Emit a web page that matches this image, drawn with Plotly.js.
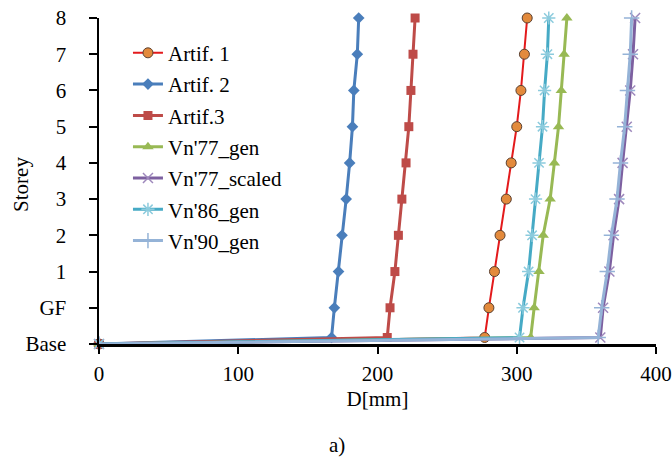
<!DOCTYPE html>
<html>
<head>
<meta charset="utf-8">
<script src="https://cdn.plot.ly/plotly-3.0.1.min.js"></script>
<style>html,body{margin:0;padding:0;background:#fff;}#chart{width:672px;height:457px;}</style>
</head>
<body>
<div id="chart"></div>
<script>
// Storey levels (numeric positions) and their labels
const levels = [0, 0.18, 1, 2, 3, 4, 5, 6, 7, 8, 9];
const levelTicks = [0, 1, 2, 3, 4, 5, 6, 7, 8, 9];
const levelLabels = ["Base", "GF", "1", "2", "3", "4", "5", "6", "7", "8"];
const xTicks = [0, 100, 200, 300, 400];

// Displacement D [mm] per level (origin, base, GF, 1..8)
const artif1 = [0, 277, 280, 284, 288, 292.5, 296, 300, 303, 305.5, 307.5];
const artif2 = [0, 167, 169, 172, 174.5, 177.5, 180, 182, 183, 185.5, 186.5];
const artif3 = [0, 207, 209, 212.5, 215, 217.5, 220.5, 222.5, 224, 225.5, 227];
const vn77gen = [0, 310, 312.5, 316, 319, 324, 327, 330, 332, 334, 336];
const vn77scaled = [0, 360, 362, 366.5, 369.5, 373.5, 376, 379, 381.5, 383.5, 385];
const vn86gen = [0, 302, 304.5, 308.5, 311, 313.5, 316, 318.5, 320, 322, 323];
const vn90gen = [0, 358.5, 361, 365, 368, 372, 374.5, 377.5, 379.5, 381.5, 382.5];

const names = ["Artif. 1", "Artif. 2", "Artif.3", "Vn'77_gen", "Vn'77_scaled", "Vn'86_gen", "Vn'90_gen"];
const series = [artif1, artif2, artif3, vn77gen, vn77scaled, vn86gen, vn90gen];

const styles = [
  {line: {color: "#E31A1C", width: 2}, marker: {symbol: "circle", size: 10, color: "#E38A3C", line: {color: "#5A4030", width: 1}}},
  {line: {color: "#4A7EBB", width: 3}, marker: {symbol: "diamond", size: 9, color: "#4A7EBB"}},
  {line: {color: "#BE4B48", width: 3}, marker: {symbol: "square", size: 9, color: "#BE4B48"}},
  {line: {color: "#98B954", width: 3}, marker: {symbol: "triangle-up", size: 10, color: "#98B954"}},
  {line: {color: "#7D60A0", width: 3}, marker: {symbol: "x-thin", size: 10, color: "#7D60A0", line: {color: "#9E88BC", width: 1.5}}},
  {line: {color: "#46AAC5", width: 3}, marker: {symbol: "asterisk", size: 11, color: "#46AAC5", line: {color: "#8CCBDD", width: 1.5}}},
  {line: {color: "#95B3D7", width: 3}, marker: {symbol: "cross-thin", size: 11, color: "#95B3D7", line: {color: "#95B3D7", width: 1.5}}}
];

const traces = series.map((xs, i) => ({
  type: "scatter",
  mode: "lines+markers",
  name: names[i],
  x: xs,
  y: levels,
  line: styles[i].line,
  marker: styles[i].marker,
  legendgroup: "g" + i,
  cliponaxis: false
}));

const font = {family: "Liberation Serif", color: "#000"};
const FS = 21;

const layout = {
  width: 672,
  height: 457,
  margin: {l: 99, r: 16, t: 18, b: 113},
  paper_bgcolor: "#fff",
  plot_bgcolor: "#fff",
  font: Object.assign({size: FS}, font),
  showlegend: true,
  legend: {
    x: 0.052, y: 0.955, xanchor: "left", yanchor: "top",
    font: Object.assign({size: FS}, font),
    bgcolor: "rgba(0,0,0,0)",
    tracegroupgap: 1,
    itemwidth: 30
  },
  xaxis: {
    range: [0, 400],
    tickvals: xTicks,
    ticks: "outside", ticklen: 7, tickwidth: 2, tickcolor: "#000",
    showline: true, linecolor: "#000", linewidth: 2.5,
    showgrid: false, zeroline: false,
    ticklabelstandoff: 2,
    tickfont: Object.assign({size: FS}, font),
    title: {text: "D[mm]", font: Object.assign({size: FS}, font), standoff: 7}
  },
  yaxis: {
    range: [0, 9],
    tickvals: levelTicks,
    ticktext: levelLabels,
    ticks: "outside", ticklen: 8, tickwidth: 2, tickcolor: "#000",
    showline: true, linecolor: "#000", linewidth: 2.5,
    showgrid: false, zeroline: false,
    ticklabelstandoff: 18,
    tickfont: Object.assign({size: FS}, font)
  },
  annotations: [
    {
      text: "a)", xref: "paper", yref: "paper", x: 0.427, y: -0.31,
      xanchor: "center", yanchor: "middle", showarrow: false,
      font: Object.assign({size: FS}, font)
    },
    {
      text: "Storey", xref: "paper", yref: "paper", x: -0.14, y: 0.488,
      xanchor: "center", yanchor: "middle", showarrow: false, textangle: -90,
      font: Object.assign({size: FS}, font)
    }
  ]
};

Plotly.newPlot("chart", traces, layout, {displayModeBar: false, staticPlot: true});
</script>
</body>
</html>
